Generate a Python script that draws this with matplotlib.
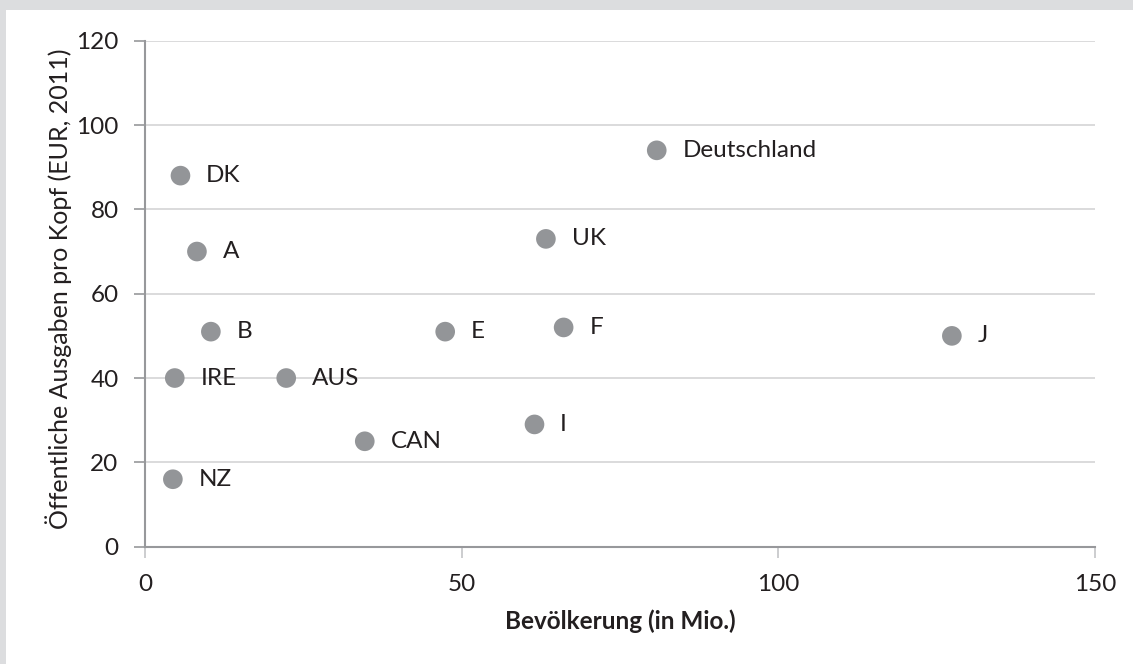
import matplotlib
matplotlib.use("Agg")
import matplotlib.pyplot as plt
from matplotlib.patches import Rectangle

plt.rcParams['font.family'] = ['Lato', 'DejaVu Sans']

# data
countries = ['DK', 'A', 'B', 'IRE', 'NZ', 'AUS', 'CAN', 'E', 'I', 'UK', 'F', 'Deutschland', 'J']
population = [5.6, 8.2, 10.4, 4.7, 4.4, 22.3, 34.7, 47.4, 61.5, 63.3, 66.1, 80.8, 127.4]
spending = [88, 70, 51, 40, 16, 40, 25, 51, 29, 73, 52, 94, 50]
x_ticks = [0, 50, 100, 150]
y_ticks = [0, 20, 40, 60, 80, 100, 120]

FS = 17.5
TXT = '#231f20'

fig = plt.figure(figsize=(11.33, 6.64), dpi=100)
fig.patch.set_facecolor('#dcdddf')
# white panel inside the gray frame
fig.patches.append(Rectangle((6 / 1133, 0), 1 - 6 / 1133, 1 - 10 / 664,
                             transform=fig.transFigure, facecolor='white',
                             edgecolor='none', zorder=-10))

ax = fig.add_axes([145 / 1133, 1 - 546.7 / 664, 950 / 1133, 506 / 664])
ax.set_facecolor('none')

ax.scatter(population, spending, s=200, color='#939598', edgecolors='none', zorder=3)
for name, px, py in zip(countries, population, spending):
    ax.annotate(name, (px, py), xytext=(18.5, 0), textcoords='offset points',
                va='center', ha='left', fontsize=FS, color=TXT)

ax.set_xlim(0, 150)
ax.set_ylim(0, 120)
ax.set_xticks(x_ticks)
ax.set_yticks(y_ticks)
ax.yaxis.grid(True, color='#d4d4d6', linewidth=1.2)
ax.set_axisbelow(True)

for side in ['top', 'right']:
    ax.spines[side].set_visible(False)
for side in ['left', 'bottom']:
    ax.spines[side].set_color('#97989b')
    ax.spines[side].set_linewidth(1.5)

ax.tick_params(axis='y', length=8, width=1.2, color='#97989b',
               labelsize=FS, labelcolor=TXT, pad=11)
ax.tick_params(axis='x', length=8, width=1.2, color='#c4c5c7',
               labelsize=FS, labelcolor=TXT, pad=12)

ax.set_xlabel('Bevölkerung (in Mio.)', fontsize=FS, fontweight='bold',
              color=TXT, labelpad=10)
ax.set_ylabel('Öffentliche Ausgaben pro Kopf (EUR, 2011)', fontsize=18,
              color=TXT)
ax.yaxis.set_label_coords(-0.077, 0.509)

fig.savefig('out.png', dpi=100, facecolor=fig.get_facecolor())
